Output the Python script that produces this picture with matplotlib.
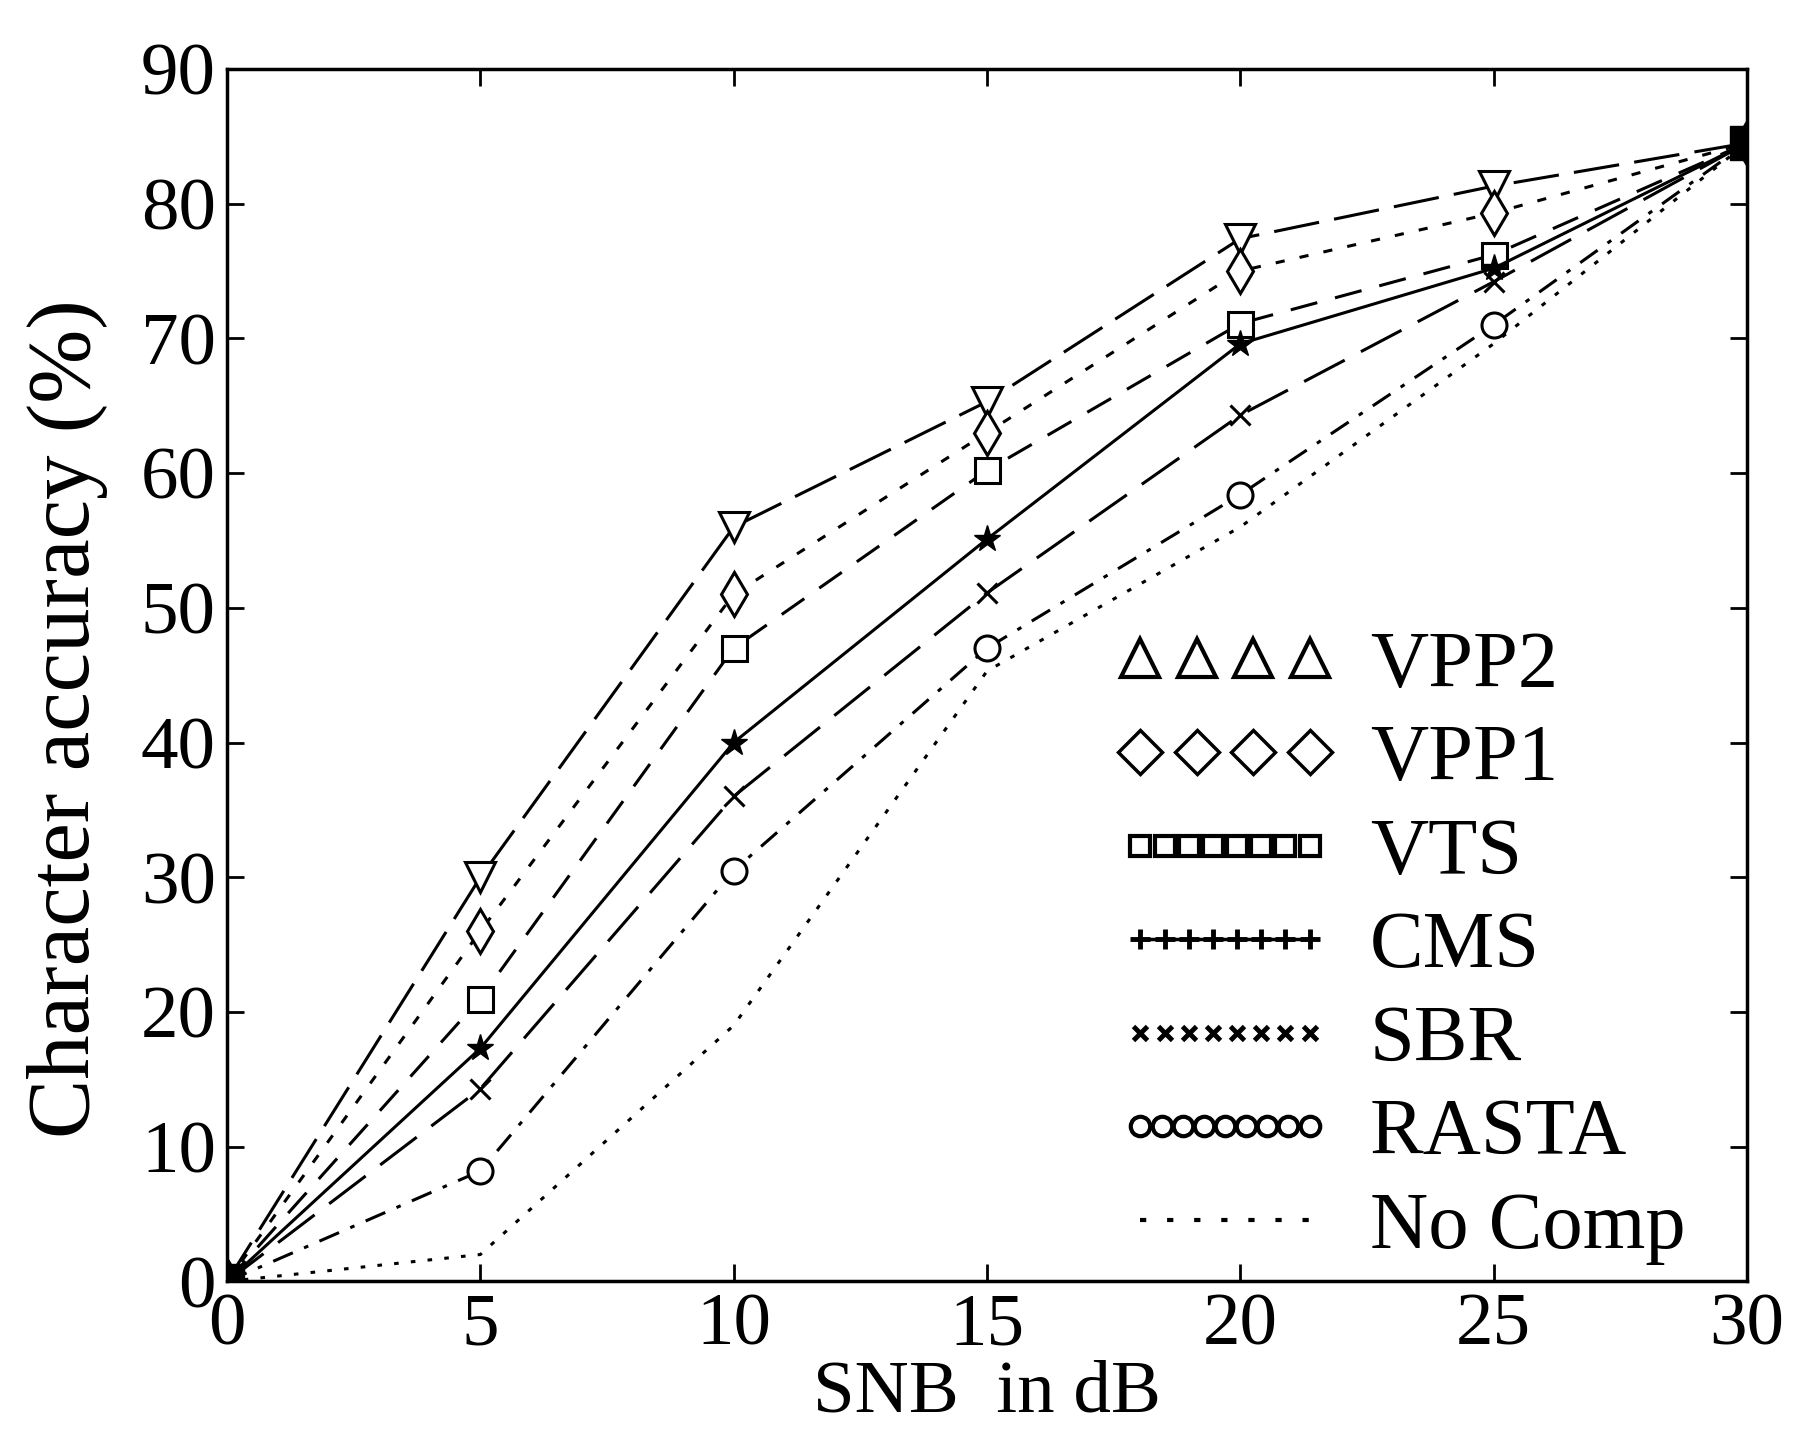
import matplotlib
matplotlib.use('Agg')
import matplotlib.pyplot as plt
from matplotlib.lines import Line2D
from matplotlib.legend_handler import HandlerLine2D

plt.rcParams['font.family'] = ['Liberation Serif', 'DejaVu Serif']

snr = [0, 5, 10, 15, 20, 25, 30]
vpp2 = [0, 30, 56, 65.3, 77.4, 81.3, 84.5]
vpp1 = [0, 26, 51, 63, 75, 79.3, 84.5]
vts = [0, 21, 47, 60.2, 71.1, 76.2, 84.5]
cms = [0, 17.3, 40, 55.1, 69.6, 75.2, 84.5]
sbr = [0, 14.3, 36, 51.1, 64.3, 74.2, 84.5]
rasta = [0, 8.2, 30.5, 47, 58.4, 71, 84.5]
nocomp = [0, 2, 19, 45.3, 56, 69.6, 84.5]

xticks = [0, 5, 10, 15, 20, 25, 30]
yticks = [0, 10, 20, 30, 40, 50, 60, 70, 80, 90]

fig = plt.figure(figsize=(17.96, 14.35), dpi=100)
ax = fig.add_axes([0.1264, 0.107, 0.8463, 0.845])

lw = 2.2
k = dict(color='black', lw=lw, mfc='white', mec='black', mew=2.2)
ax.plot(snr, vpp2, marker='v', ms=22, dashes=(15, 5), **k)
ax.plot(snr, vpp1, marker='d', ms=22, dashes=(3, 5), **k)
ax.plot(snr, vts, marker='s', ms=18, dashes=(9, 6), **k)
ax.plot(snr, cms, color='black', lw=lw, marker='*', ms=20, mfc='black', mec='black')
ax.plot(snr, sbr, marker='x', ms=14, dashes=(15, 6), **k)
ax.plot(snr, rasta, marker='o', ms=18, dashes=(7, 4, 1.5, 4), **k)
ax.plot(snr, nocomp, color='black', lw=lw, dashes=(1.5, 4))
ax.plot([0, 30], [0, 84.5], ls='none', marker='s', ms=24, color='black')

ax.set_xlim(0, 30)
ax.set_ylim(0, 90)
ax.set_xticks(xticks)
ax.set_yticks(yticks)
ax.tick_params(direction='in', length=12, width=2, top=True, right=True,
               labelsize=54, pad=8)
for s in ax.spines.values():
    s.set_linewidth(2.5)

ax.set_xlabel('SNB  in dB', fontsize=54, labelpad=0)
ax.set_ylabel('Character accuracy (%)', fontsize=64)
ax.yaxis.set_label_coords(-0.078, 0.464)

# legend in the old style, markers repeated along the sample
h = [
    Line2D([], [], ls='none', marker='^', ms=27, mfc='white', mec='black', mew=3),
    Line2D([], [], ls='none', marker='D', ms=22, mfc='white', mec='black', mew=2.5),
    Line2D([], [], ls='none', marker='s', ms=15, mfc='white', mec='black', mew=3),
    Line2D([], [], color='black', lw=2.5, marker='+', ms=15, mec='black', mew=3.5),
    Line2D([], [], ls='none', marker='x', ms=10, mec='black', mew=3.5),
    Line2D([], [], ls='none', marker='o', ms=14, mfc='white', mec='black', mew=3),
    Line2D([], [], color='black', lw=3, dashes=(1.5, 5)),
]
labels = ['VPP2', 'VPP1', 'VTS', 'CMS', 'SBR', 'RASTA', 'No Comp']
npts = [4, 4, 8, 8, 8, 9, 2]
hmap = {hh: HandlerLine2D(numpoints=n) for hh, n in zip(h, npts)}
ax.legend(h, labels, handler_map=hmap, loc='upper left',
          bbox_to_anchor=(0.585, 0.537), frameon=False, fontsize=58,
          handlelength=2.7, handletextpad=0.45, labelspacing=0.25,
          borderpad=0, borderaxespad=0)

fig.savefig('out.png', dpi=100)
